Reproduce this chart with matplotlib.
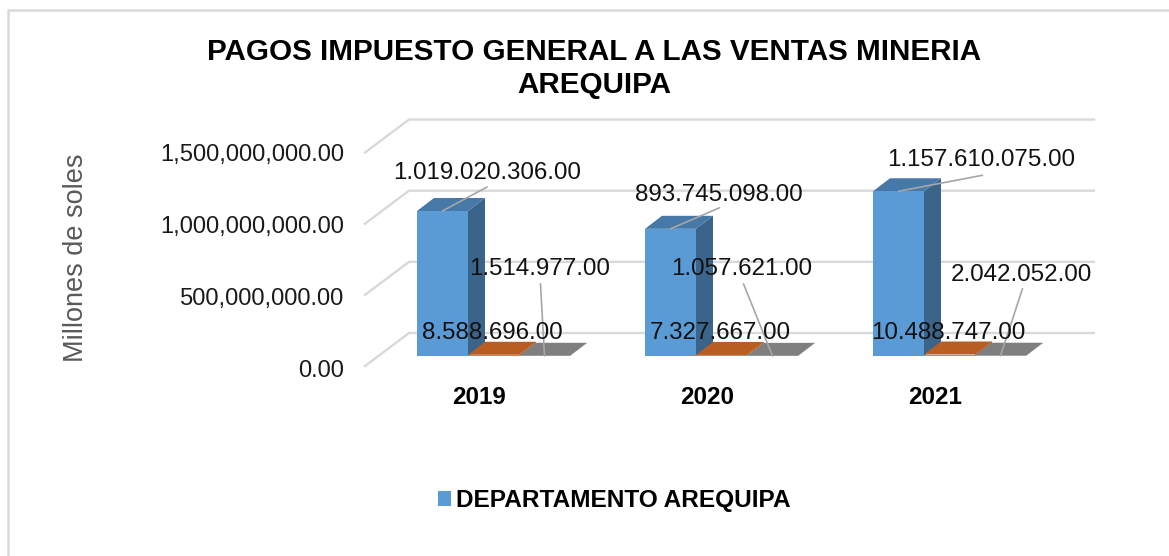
import matplotlib
matplotlib.use('Agg')
import matplotlib.pyplot as plt
from matplotlib.patches import Polygon

years = ['2019', '2020', '2021']
blue_vals = [1019020306, 893745098, 1157610075]
orange_vals = [8588696, 7327667, 10488747]
gray_vals = [1514977, 1057621, 2042052]
y_ticks = [0, 500000000, 1000000000, 1500000000]

plt.rcParams['font.family'] = ['Liberation Sans', 'DejaVu Sans']

W, H = 1169, 556
GROUP_PX = 228.0      # pixels between years
VAL_PX = 142.3 / 1e9  # pixels per sol


def px(dx):
    return dx / GROUP_PX


def py(dy):
    return dy / VAL_PX


fig = plt.figure(figsize=(W / 100, H / 100), dpi=100)
ax = fig.add_axes([0, 0, 1, 1])
# year 0 centred at x=493.5 px, value 0 at y=356 px
ax.set_xlim(px(-493.5), px(W - 493.5))
ax.set_ylim(py(-(H - 356)), py(356))
ax.axis('off')

# outer chart border, only top and left show
ax.plot([px(8 - 493.5), px(8 - 493.5), px(W - 493.5)],
        [py(-(H - 356)), py(346), py(346)], color='#d9d9d9', lw=1.8)

# walls
grid_c = '#d9d9d9'
for t in y_ticks:
    ax.plot([px(365 - 493.5), px(409 - 493.5), px(1094 - 493.5)],
            [t - py(10), t + py(23), t + py(23)], color=grid_c, lw=1.7, zorder=1)
    ax.text(px(344 - 493.5), t * 1.012 - py(21), f'{t:,.2f}', ha='right', va='baseline',
            fontsize=17.1, color='#1a1a1a')

# bars
bw = 51 / GROUP_PX
d_x, d_y = px(17), py(13)
series = [
    (blue_vals, -bw, '#5b9bd5', '#4678a8', '#3a6489'),
    (orange_vals, 0, '#ed7d31', '#b85e22', '#9c4f1c'),
    (gray_vals, bw, '#a5a5a5', '#7f7f7f', '#6e6e6e'),
]
for i in range(len(years)):
    for vals, off, front, top, side in series:
        x0 = i + off - bw / 2
        x1 = x0 + bw
        v = vals[i]
        ax.bar(x0, v, width=bw, align='edge', color=front, zorder=3,
               label='DEPARTAMENTO AREQUIPA' if (i == 0 and off < 0) else None)
        ax.add_patch(Polygon([(x1, 0), (x1 + d_x, d_y), (x1 + d_x, v + d_y), (x1, v)],
                             closed=True, fc=side, ec='none', zorder=2.5))
        ax.add_patch(Polygon([(x0, v), (x0 + d_x, v + d_y), (x1 + d_x, v + d_y), (x1, v)],
                             closed=True, fc=top, ec='none', zorder=2.5))

# data labels, offsets in pixels from the bar's top centre
line_c = '#a6a6a6'
blue_text = [(44.5, 38), (48, 34), (83, 31)]
blue_lead = [(44.5, 24), (49, 21), (84, 16)]
gray_text = [(-5, 87), (-30.5, 87), (21, 81)]
gray_lead = [(-4, 72), (-29, 72), (22, 67)]


def fmt(v):
    return f'{v:,.0f}'.replace(',', '.') + '.00'


def leader(x, v, off):
    ax.annotate('', xy=(x, v), xytext=off, textcoords='offset pixels', zorder=5,
                arrowprops=dict(arrowstyle='-', color=line_c, lw=1.2, shrinkA=0, shrinkB=0))


def label(x, v, off, s):
    ax.annotate(s, xy=(x, v), xytext=off, textcoords='offset pixels', ha='center',
                va='center', fontsize=17.4, color='#111111', zorder=6)


for i in range(len(years)):
    leader(i - bw, blue_vals[i], blue_lead[i])
    label(i - bw, blue_vals[i], blue_text[i], fmt(blue_vals[i]))
    label(i, orange_vals[i], (-1, 22), fmt(orange_vals[i]))
    leader(i + bw, gray_vals[i], gray_lead[i])
    label(i + bw, gray_vals[i], gray_text[i], fmt(gray_vals[i]))
    ax.text(i + px(-14.5), py(-41), years[i], ha='center', va='center',
            fontsize=17.4, fontweight='bold', color='black')

fig.text(594 / W, 1 - 52 / H, 'PAGOS IMPUESTO GENERAL A LAS VENTAS MINERIA',
         ha='center', va='center', fontsize=21.3, fontweight='bold', color='black')
fig.text(594 / W, 1 - 85 / H, 'AREQUIPA',
         ha='center', va='center', fontsize=21.3, fontweight='bold', color='black')
fig.text(76 / W, 1 - 258 / H, 'Millones de soles', rotation=90, ha='center', va='center',
         fontsize=19.5, color='#595959')

fig.legend(loc='center', bbox_to_anchor=(614 / W, 1 - 501 / H), frameon=False,
           prop={'weight': 'bold', 'size': 17.6}, handlelength=0.55,
           handleheight=0.55, handletextpad=0.2)

fig.savefig('out.png', dpi=100)
